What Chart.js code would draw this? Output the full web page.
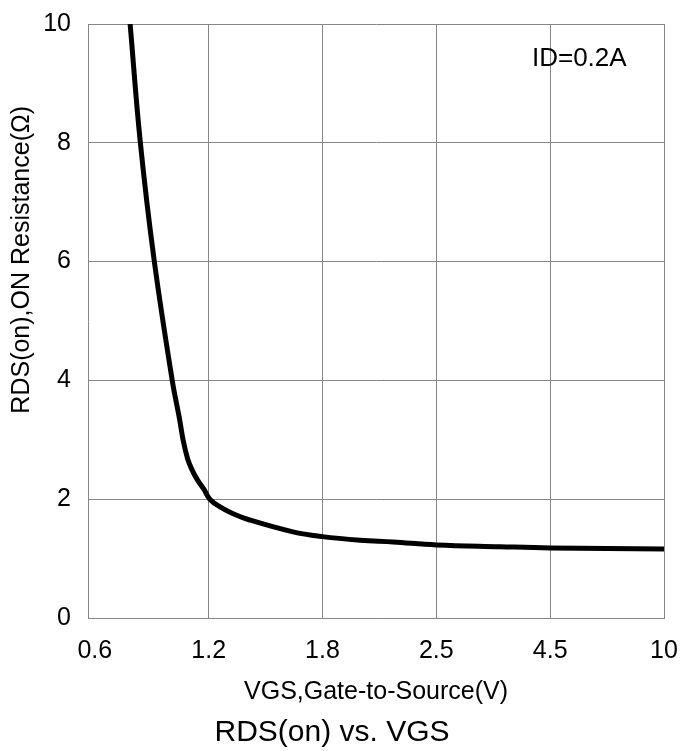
<!DOCTYPE html>
<html lang="en">
<head>
    <meta charset="UTF-8">
    <title>RDS(on) vs. VGS</title>
    <script src="https://cdn.jsdelivr.net/npm/chart.js"></script>
    <style>
        html, body { margin: 0; padding: 0; background: #ffffff; }
        .chart-container { position: relative; width: 688px; height: 751px; }
    </style>
</head>
<body>
    <div class="chart-container">
        <canvas id="rdsChart"></canvas>
    </div>

    <script>
        // --- Data (x in axis divisions, one per tick label) ---
        const xTickLabels = ['0.6', '1.2', '1.8', '2.5', '4.5', '10'];
        const curvePos = [0.31, 0.40, 0.52, 0.68, 0.745, 0.775, 0.815, 0.855, 0.90, 0.96, 1.01, 1.10, 1.21, 1.36, 1.74, 2.0, 2.33, 2.62, 3.0, 3.56, 4.0, 5.0];
        const rdsValues = [10.0, 8.0, 6.04, 4.0, 3.34, 3.0, 2.68, 2.49, 2.33, 2.16, 2.0, 1.87, 1.76, 1.65, 1.45, 1.37, 1.31, 1.28, 1.23, 1.2, 1.18, 1.16];
        const yTicks = [0, 2, 4, 6, 8, 10];
        const noteText = 'ID=0.2A';
        const notePos = [3.84, 9.41];
        const yTitle = 'RDS(on),ON Resistance(Ω)';

        const FONT = "'Liberation Sans', Arial, sans-serif";
        const GRID = '#868686';

        // labels drawn by hand: "ID=0.2A" and the y title (it sits above the middle in the original)
        const textPlugin = {
            id: 'texts',
            afterDatasetsDraw(chart) {
                const { ctx, scales, chartArea } = chart;
                ctx.save();
                ctx.fillStyle = '#000';
                ctx.font = '26px ' + FONT;
                ctx.textAlign = 'left';
                ctx.textBaseline = 'middle';
                ctx.fillText(noteText, scales.x.getPixelForValue(notePos[0]), scales.y.getPixelForValue(notePos[1]));

                ctx.font = '25px ' + FONT;
                ctx.textAlign = 'center';
                ctx.translate(22, chartArea.top + (chartArea.bottom - chartArea.top) * 0.397);
                ctx.rotate(-Math.PI / 2);
                ctx.fillText(yTitle, 0, 0);
                ctx.restore();
            }
        };

        const ctx = document.getElementById('rdsChart').getContext('2d');
        new Chart(ctx, {
            type: 'line',
            data: {
                datasets: [{
                    data: curvePos.map((x, i) => ({ x: x, y: rdsValues[i] })),
                    borderColor: '#000000',
                    borderWidth: 5,
                    pointRadius: 0,
                    tension: 0.4,
                    fill: false
                }]
            },
            options: {
                responsive: true,
                maintainAspectRatio: false,
                animation: false,
                layout: { padding: { left: 0, right: 24, top: 24, bottom: 0 } },
                scales: {
                    x: {
                        type: 'linear',
                        min: -0.06,
                        max: 5,
                        afterBuildTicks: (scale) => {
                            scale.ticks = xTickLabels.map((_, i) => ({ value: i }));
                        },
                        afterFit: (scale) => {
                            scale.height = 95;
                            scale.paddingLeft = 0;
                            scale.paddingRight = 0;
                        },
                        ticks: {
                            callback: (v) => xTickLabels[v],
                            font: { family: FONT, size: 25 },
                            color: '#000',
                            padding: 18,
                            maxRotation: 0,
                            autoSkip: false
                        },
                        grid: {
                            color: (c) => c.index === 0 ? 'rgba(0,0,0,0)' : GRID,
                            lineWidth: 1,
                            drawTicks: false
                        },
                        border: { color: GRID, width: 1 },
                        title: {
                            display: true,
                            text: 'VGS,Gate-to-Source(V)',
                            font: { family: FONT, size: 25 },
                            color: '#000',
                            padding: { top: 0, bottom: 6 }
                        }
                    },
                    y: {
                        min: 0,
                        max: 10,
                        afterBuildTicks: (scale) => {
                            scale.ticks = yTicks.map(v => ({ value: v }));
                        },
                        afterFit: (scale) => {
                            scale.width = 88;
                            scale.paddingTop = 0;
                            scale.paddingBottom = 0;
                        },
                        ticks: {
                            font: { family: FONT, size: 25 },
                            color: '#000',
                            padding: 17
                        },
                        grid: { color: GRID, lineWidth: 1, drawTicks: false },
                        border: { color: GRID, width: 1 }
                    }
                },
                plugins: {
                    legend: { display: false },
                    tooltip: { enabled: false },
                    title: {
                        display: true,
                        position: 'bottom',
                        text: 'RDS(on) vs. VGS',
                        font: { family: FONT, size: 30, weight: 'normal' },
                        color: '#000',
                        padding: { top: 2, bottom: 0 }
                    }
                }
            },
            plugins: [textPlugin]
        });
    </script>
</body>
</html>
